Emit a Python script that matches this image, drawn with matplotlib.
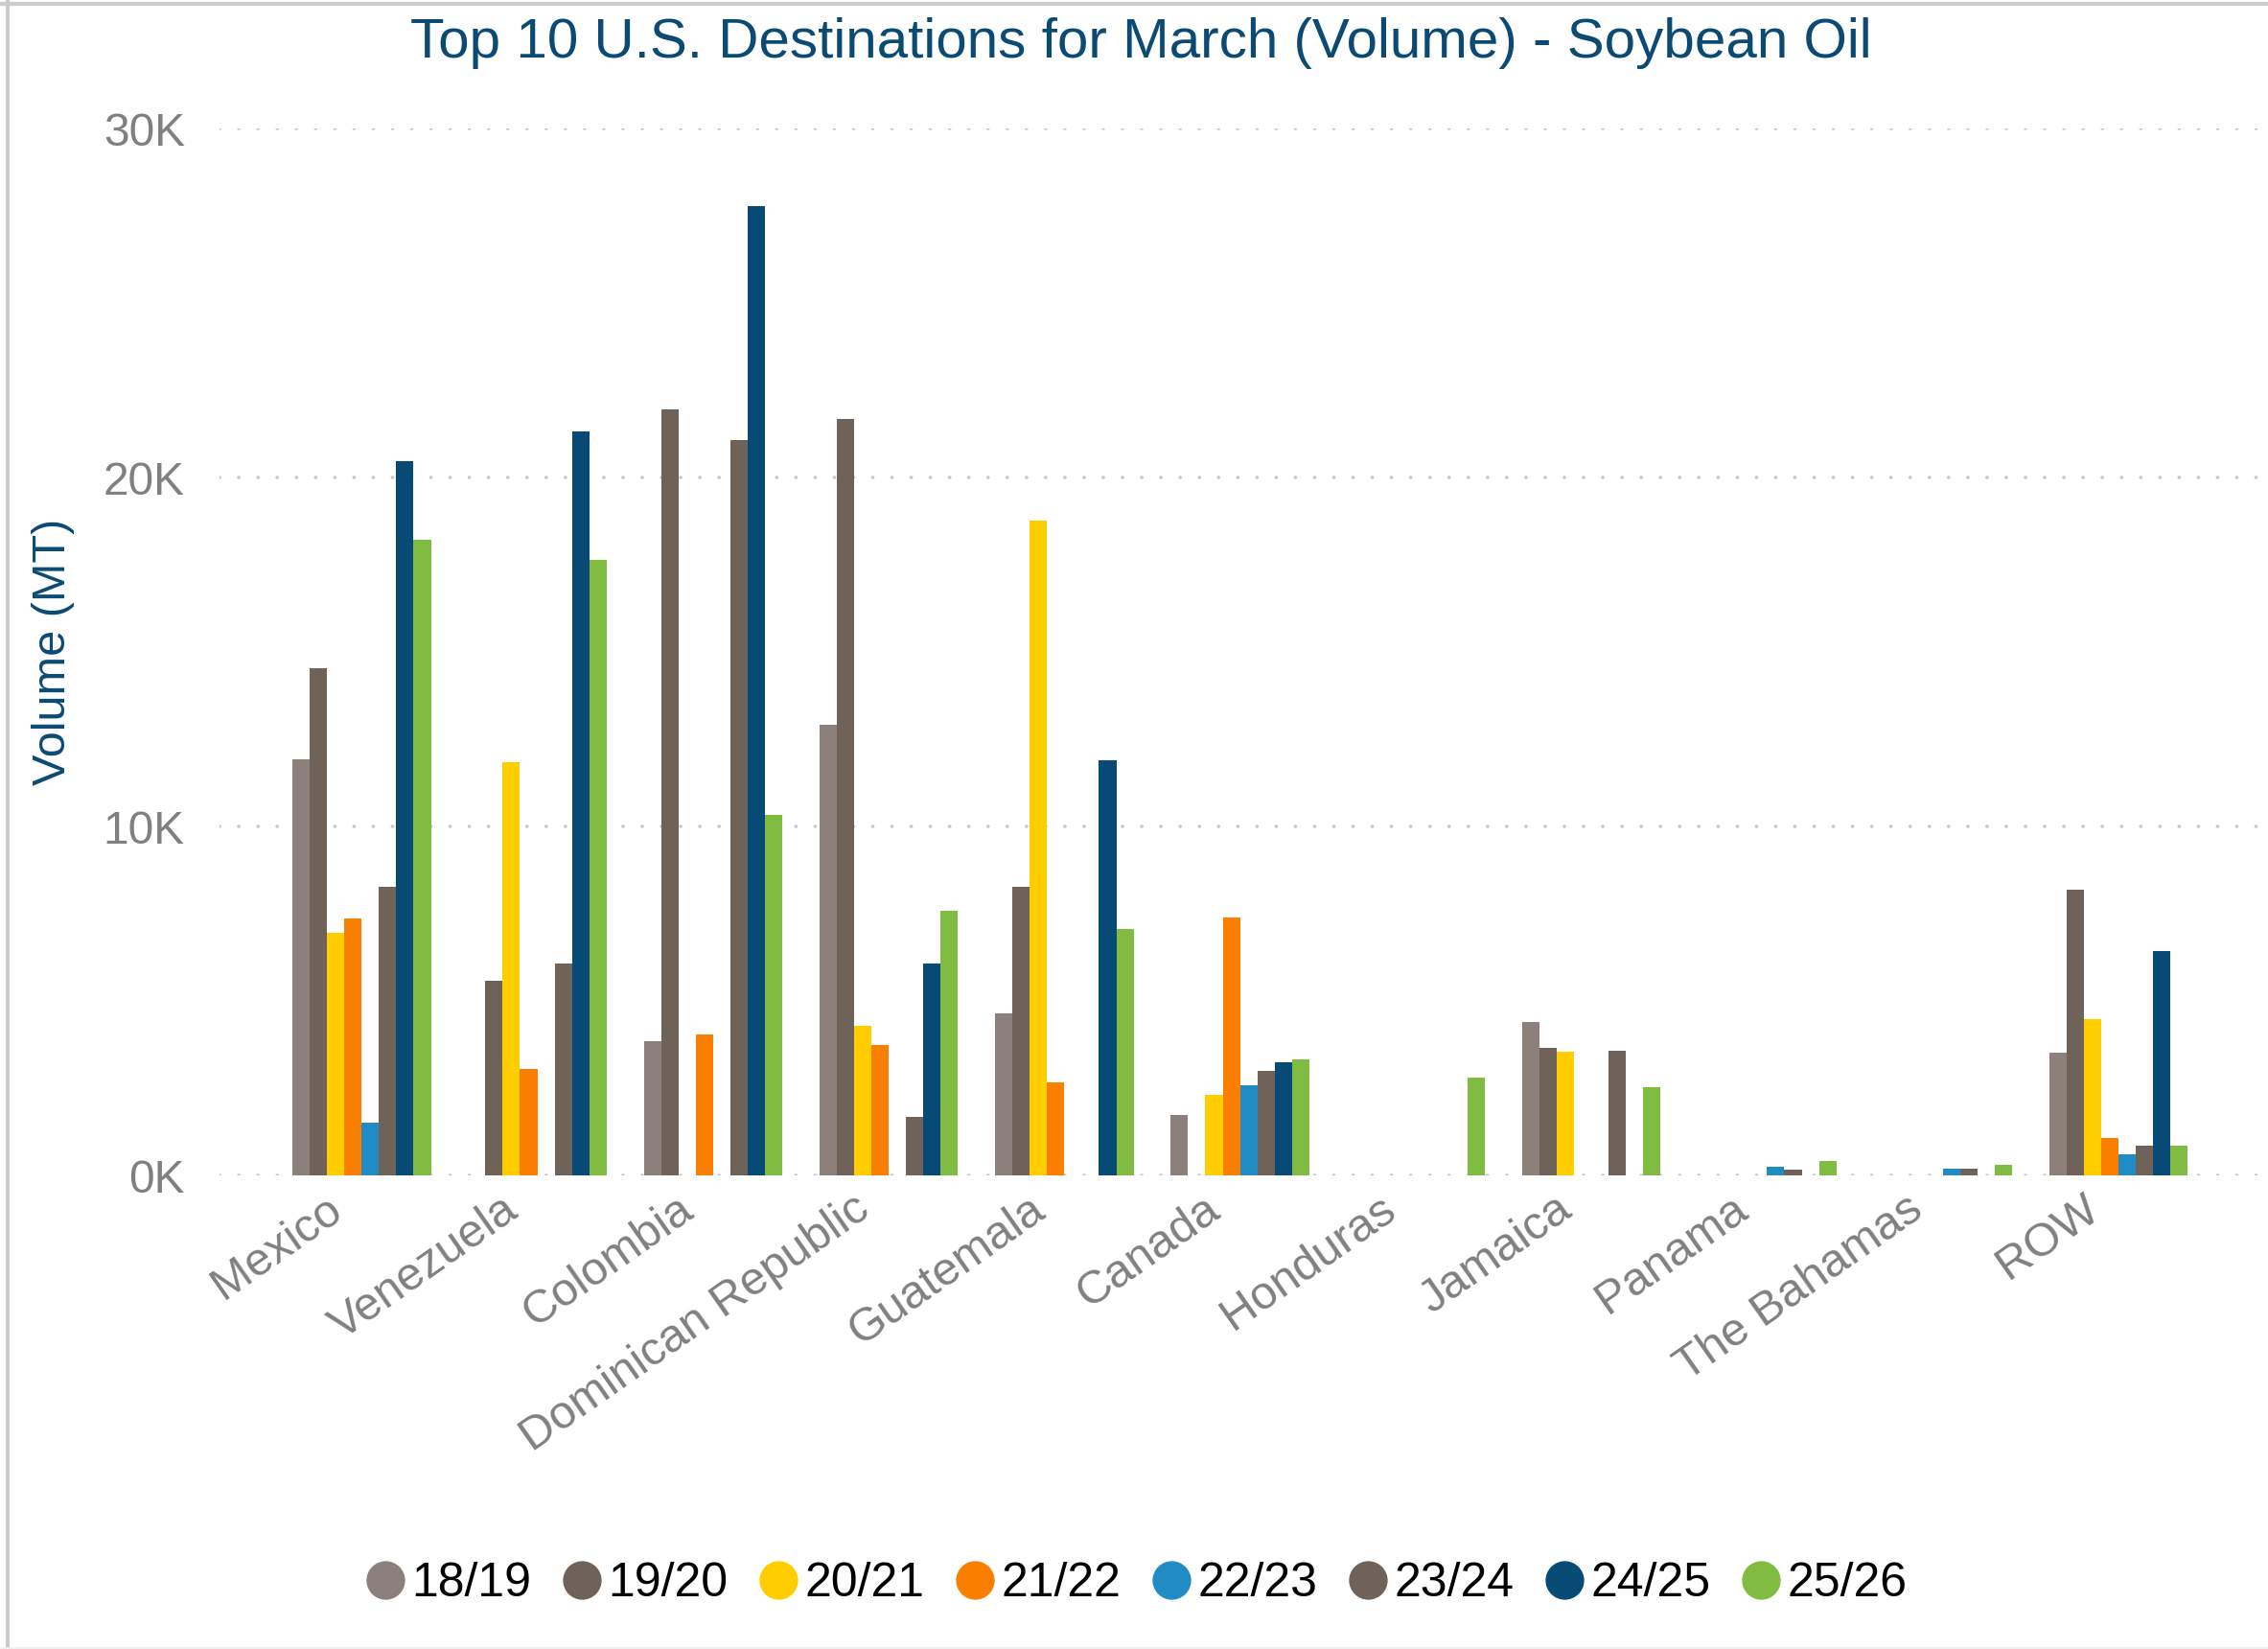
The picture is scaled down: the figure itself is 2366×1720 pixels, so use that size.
import matplotlib
matplotlib.use("Agg")
import matplotlib.pyplot as plt
import matplotlib.transforms as mtransforms
from matplotlib.lines import Line2D
import numpy as np

plt.rcParams['font.family'] = ['Liberation Sans', 'DejaVu Sans']

countries = ["Mexico", "Venezuela", "Colombia", "Dominican Republic", "Guatemala",
             "Canada", "Honduras", "Jamaica", "Panama", "The Bahamas", "ROW"]
seasons = ["18/19", "19/20", "20/21", "21/22", "22/23", "23/24", "24/25", "25/26"]

# Volume in metric tons
vol_1819 = [11910, 0, 3840, 12920, 4650, 1720, 0, 4400, 0, 0, 3520]
vol_1920 = [14520, 5570, 21960, 21680, 8260, 0, 0, 3650, 0, 0, 8190]
vol_2021 = [6940, 11830, 0, 4280, 18760, 2300, 0, 3540, 0, 0, 4470]
vol_2122 = [7350, 3060, 4050, 3750, 2660, 7390, 0, 0, 0, 0, 1080]
vol_2223 = [1510, 0, 0, 0, 0, 2590, 0, 0, 240, 180, 600]
vol_2324 = [8280, 6060, 21080, 1680, 0, 2990, 0, 3560, 160, 180, 840]
vol_2425 = [20480, 21330, 27780, 6080, 11890, 3240, 0, 0, 0, 0, 6440]
vol_2526 = [18220, 17650, 10330, 7570, 7070, 3320, 2790, 2540, 420, 290, 860]

yticks = [0, 10000, 20000, 30000]
ytick_labels = ["0K", "10K", "20K", "30K"]

series = [vol_1819, vol_1920, vol_2021, vol_2122, vol_2223, vol_2324, vol_2425, vol_2526]
colors = ["#8C817A", "#6E6259", "#FFCD00", "#FA7F00", "#218CC4", "#6E6259", "#084A76", "#80BC42"]

title_color = "#0B4A73"
tick_color = "#808080"
grid_color = "#C8C8C8"

fig = plt.figure(figsize=(23.66, 17.2), dpi=100)
ax = fig.add_axes([229 / 2366, 1 - 1226 / 1720, (2362 - 229) / 2366, (1226 - 134) / 1720])

x = np.arange(len(countries))
w = 0.0986
for i, (vals, col) in enumerate(zip(series, colors)):
    ax.bar(x + (i - 3.5) * w, vals, width=w, color=col, label=seasons[i],
           linewidth=0, zorder=3)

ax.set_ylim(0, 30000)
ax.set_xlim(-0.809, 10.83)

# dotted horizontal gridlines
for yv in yticks:
    ax.axhline(yv, color=grid_color, linewidth=2.6, linestyle=(0, (0.05, 5.5)),
               dash_capstyle='round', zorder=1)

ax.set_yticks(yticks)
ax.set_yticklabels(ytick_labels, fontsize=34.5, color=tick_color)
ax.tick_params(axis='y', length=0, pad=26)

ax.set_xticks(x)
ax.set_xticklabels(countries, fontsize=35, color=tick_color, rotation=35,
                   ha='right', rotation_mode='anchor')
ax.tick_params(axis='x', length=0, pad=9)
shift = mtransforms.ScaledTranslation(-0.38, 0, fig.dpi_scale_trans)
for lbl in ax.get_xticklabels():
    lbl.set_transform(lbl.get_transform() + shift)

for s in ax.spines.values():
    s.set_visible(False)

ax.set_ylabel("Volume (MT)", fontsize=35, color=title_color, labelpad=0)
ax.yaxis.set_label_coords(-0.071, 0.5)

fig.text(0.503, 1 - 60 / 1720, "Top 10 U.S. Destinations for March (Volume) - Soybean Oil",
         ha='center', va='baseline', fontsize=42, color=title_color)

handles = [Line2D([], [], marker='o', linestyle='none', markersize=29,
                  markerfacecolor=c, markeredgewidth=0) for c in colors]
fig.legend(handles, seasons, loc='center', bbox_to_anchor=(0.5, 1 - 1652 / 1720),
           ncol=8, frameon=False, fontsize=36, handletextpad=0.05, columnspacing=0.55,
           handlelength=1.0)

# light frame around the visual
fig.add_artist(Line2D([0, 1], [1 - 4 / 1720, 1 - 4 / 1720], color="#CCCCCC", linewidth=3,
                      transform=fig.transFigure))
fig.add_artist(Line2D([8 / 2366, 8 / 2366], [0, 1], color="#CCCCCC", linewidth=3,
                      transform=fig.transFigure))
fig.add_artist(Line2D([0, 1], [1 / 1720, 1 / 1720], color="#F0F0F0", linewidth=1.5,
                      transform=fig.transFigure))

fig.savefig("out.png", dpi=100, facecolor="white")
